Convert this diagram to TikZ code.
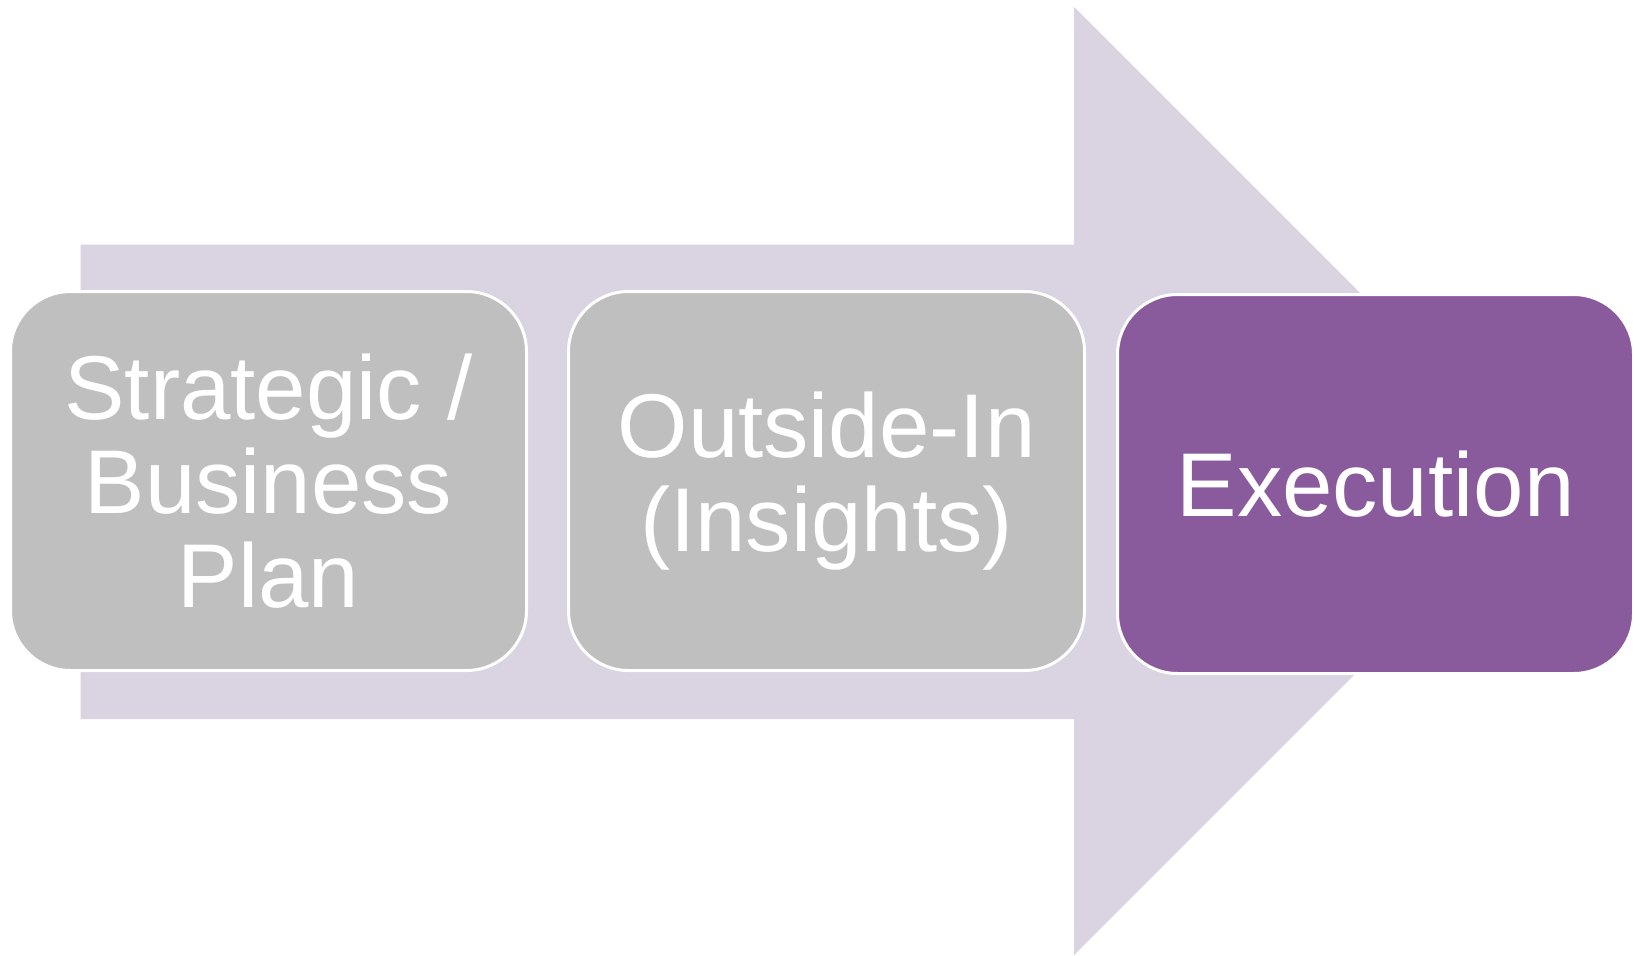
\documentclass[tikz,border=0pt]{standalone}
\usepackage{fontspec}
\setmainfont{Liberation Sans}
\usepackage{xcolor}
\usetikzlibrary{positioning}

\definecolor{arrowlilac}{HTML}{DAD3E1}
\definecolor{stagegray}{HTML}{BFBFBF}
\definecolor{stagepurple}{HTML}{8A5B9C}

\begin{document}
\begin{tikzpicture}[
        x=0.5pt, y=-0.5pt,
        stage/.style={draw=white, line width=1.5pt, rounded corners=30pt, minimum width=258pt, minimum height=189.5pt, fill=#1, text=white, align=center, font=\fontsize{45.3}{47}\selectfont},
        stage/.default=stagegray,
    ]
    \useasboundingbox (0,0) rectangle (1638,955);

    % Big arrow behind the stages
    \fill[arrowlilac] (80.7,244.7) -- (1074,244.7) -- (1074,7) -- (1548,481) -- (1074,955) -- (1074,719) -- (80.7,719) -- cycle;

    % Stages
    \node[stage] (plan) at (268.5,481) {Strategic /\\Business\\Plan};
    \node[stage, right=19.5pt of plan] (insight) {Outside-In\\(Insights)};
    \node[stage=stagepurple, right=15pt of insight, yshift=-1.5pt] (exec) {Execution};
\end{tikzpicture}
\end{document}
